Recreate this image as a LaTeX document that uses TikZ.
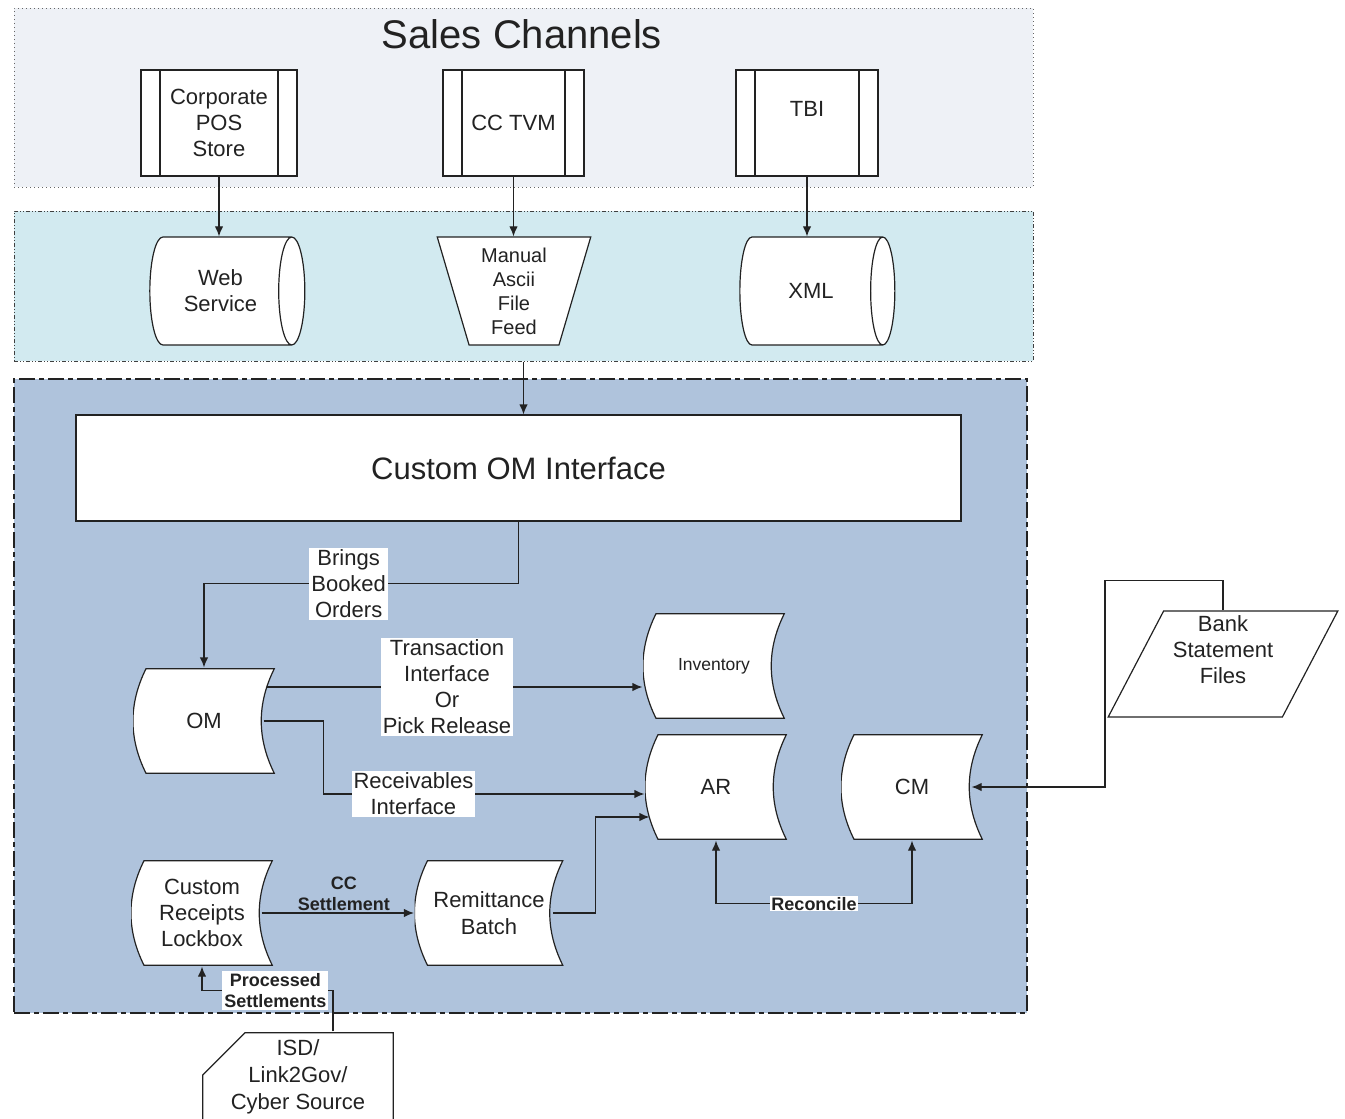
\documentclass[tikz,border=0pt]{standalone}
\usepackage{fontspec}
\setmainfont{Liberation Sans}
\usetikzlibrary{shapes.geometric,arrows.meta,calc}
\definecolor{salesbg}{HTML}{EEF1F6}
\definecolor{bandbg}{HTML}{D2EAF0}
\definecolor{corebg}{HTML}{AFC3DC}
\definecolor{ink}{HTML}{222222}
\newcommand{\boxfont}{\fontsize{11}{13}\selectfont}
\newcommand{\tagfont}{\fontsize{9}{10.5}\selectfont\bfseries}
\tikzstyle{line} = [draw, -{Latex[length=5pt,width=4.2pt]}, color=ink, line width=0.6pt]
\tikzstyle{zone} = [rectangle, inner sep=0pt, line width=0.5pt]
\tikzstyle{sub} = [rectangle, draw, fill=white, minimum height=53pt, inner sep=0pt, align=center, font=\boxfont,
  path picture={\draw ([xshift=9.5pt]path picture bounding box.north west) -- ([xshift=9.5pt]path picture bounding box.south west);
    \draw ([xshift=-9.5pt]path picture bounding box.north east) -- ([xshift=-9.5pt]path picture bounding box.south east);}]
\tikzstyle{drum} = [cylinder, draw, fill=white, shape aspect=0.62, minimum width=54pt, minimum height=77.5pt, inner sep=0pt, align=center, font=\boxfont]
\tikzstyle{manual} = [trapezium, draw, fill=white, shape border rotate=180, trapezium left angle=75, trapezium right angle=75, trapezium stretches=true, minimum width=77pt, minimum height=54pt, inner sep=0pt, align=center, font=\fontsize{10}{12}\selectfont]
\tikzstyle{stored} = [rectangle, inner sep=0pt, minimum width=71pt, minimum height=53pt, align=center, font=\boxfont,
  path picture={\draw[fill=white]
    ([shift={(6.5pt,-.35pt)}]path picture bounding box.north west) -- ([shift={(-.35pt,-.35pt)}]path picture bounding box.north east)
    .. controls +(-8.7pt,-17.5pt) and +(-8.7pt,17.5pt) .. ([shift={(-.35pt,.35pt)}]path picture bounding box.south east)
    -- ([shift={(6.5pt,.35pt)}]path picture bounding box.south west)
    .. controls +(-8.7pt,17.5pt) and +(-8.7pt,-17.5pt) .. ([shift={(6.5pt,-.35pt)}]path picture bounding box.north west) -- cycle;}]
\tikzstyle{card} = [rectangle, inner sep=0pt, minimum width=96pt, minimum height=45pt, align=center, font=\fontsize{11}{13.5}\selectfont,
  path picture={\draw[fill=white]
    ([shift={(21.5pt,-.35pt)}]path picture bounding box.north west) -- ([shift={(-.35pt,-.35pt)}]path picture bounding box.north east)
    -- ([shift={(-.35pt,.35pt)}]path picture bounding box.south east) -- ([shift={(.35pt,.35pt)}]path picture bounding box.south west)
    -- ([shift={(.35pt,-21.5pt)}]path picture bounding box.north west) -- cycle;}]
\tikzstyle{tag} = [fill=white, inner sep=1pt, align=center, font=\boxfont]
\tikzstyle{boldtag} = [inner sep=1pt, align=center, font=\tagfont]

\begin{document}
\begin{tikzpicture}[x=0.5pt, y=-0.5pt, line width=0.6pt, color=ink]
	\useasboundingbox (0,0) rectangle (1345,1119);

	% zones
	\node [zone, draw=black!60, dash pattern=on 0.5pt off 1.5pt, fill=salesbg, minimum width=509.5pt, minimum height=89.5pt] (sales) at (523.5,97.5) {};
	\node [font=\fontsize{20}{24}\selectfont] (title) at (522,34) {Sales Channels};
	\node [zone, draw=black!75, dash pattern=on 2pt off 1pt on 0.5pt off 1pt on 0.5pt off 1pt, fill=bandbg, minimum width=509.5pt, minimum height=75pt] (band) at (523.5,286) {};
	\node [zone, draw=ink, line width=1pt, dash pattern=on 8pt off 2pt on 2.5pt off 2pt, fill=corebg, minimum width=506.5pt, minimum height=317pt] (core) at (520.5,696) {};

	% sales channels
	\node [sub, minimum width=78pt] (pos) at (219,123) {Corporate\\POS\\Store};
	\node [sub, minimum width=70.5pt] (tvm) at (513.5,123) {CC TVM};
	\node [sub, minimum width=71pt, text depth=14pt] (tbi) at (807,123) {TBI};

	% feeds
	\node [drum] (web) at (220.5,291) {Web\\Service};
	\node [manual] (feed) at (514,291) {Manual\\Ascii\\File\\Feed};
	\node [drum, shape aspect=1.6] (xml) at (811,291) {XML};
	\path [line] (pos.south) to (pos.south |- web.north);
	\path [line] (tvm.south) to (tvm.south |- feed.north);
	\path [line] (tbi.south) to (tbi.south |- xml.north);

	% interface
	\node [rectangle, draw, fill=white, minimum width=442.5pt, minimum height=53pt, font=\fontsize{15.5}{18}\selectfont] (omif) at (518.5,468) {Custom OM Interface};
	\path [line] (band.south) to (band.south |- omif.north);

	% modules
	\node [stored] (om) at (204,721) {OM};
	\node [stored, font=\fontsize{8.75}{10}\selectfont] (inv) at (714,666) {Inventory};
	\node [stored] (ar) at (716,787) {AR};
	\node [stored] (cm) at (912,787) {CM};
	\node [stored] (lockbox) at (202,913) {Custom\\Receipts\\Lockbox};
	\node [stored, minimum width=74.5pt, font=\fontsize{11}{13.5}\selectfont] (remit) at (489,913) {Remittance\\Batch};

	\path [line] (omif.south) -- ++(0,62) -| node [tag, pos=0.27] {Brings\\Booked\\Orders} (om.north);

	\coordinate (omtx) at ([shift={(-4.5pt,17pt)}]om.east);
	\path [line] (omtx) -- node [tag, pos=0.48] {Transaction\\Interface\\Or\\Pick Release} (omtx -| inv.west);
	\path [line] ([xshift=-6pt]om.east) -- ++(60,0) |- node [tag, pos=0.64] {Receivables\\Interface} ([yshift=-3.5pt]ar.west);

	\path [line] ([xshift=-6pt]lockbox.east) -- node [boldtag, above, pos=0.54] {CC\\Settlement} (remit.west);
	\path [line] ([xshift=-5.5pt]remit.east) -- ++(42,0) |- ([shift={(2.5pt,-15pt)}]ar.west);
	\path [line, {Latex[length=5pt,width=4.2pt]}-{Latex[length=5pt,width=4.2pt]}] (ar.south) -- ++(0,63) -| node [boldtag, fill=white, inner sep=0.5pt, pos=0.25] {Reconcile} (cm.south);

	% outside sources
	\node [trapezium, draw, fill=white, trapezium left angle=64, trapezium right angle=116, trapezium stretches=true, minimum width=115pt, minimum height=53pt, inner sep=0pt, align=center, font=\boxfont] (bank) at (1223,664) {Bank\\Statement\\Files\\[1pt]\mbox{}};
	\path [line] (bank.north) -- ++(0,-30) -- ++(-118,0) |- ([xshift=-6pt]cm.east);

	\node [card] (isd) at (298,1077) {ISD/\\Link2Gov/\\Cyber Source};
	\path [line] ([xshift=17.5pt]isd.north) -- ++(0,-41) -| node [boldtag, fill=white, pos=0.22] {Processed\\Settlements} (lockbox.south);
\end{tikzpicture}
\end{document}
